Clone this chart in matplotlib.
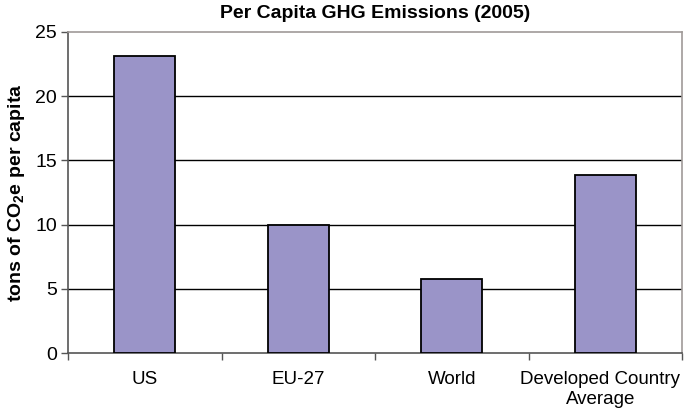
import matplotlib
matplotlib.use("Agg")
import matplotlib.pyplot as plt
import matplotlib.transforms as mtransforms
import numpy as np

categories = ["US", "EU-27", "World", "Developed Country\nAverage"]
values = [23.1, 9.95, 5.8, 13.85]
yticks = [0, 5, 10, 15, 20, 25]

plt.rcParams['font.family'] = ['Liberation Sans', 'DejaVu Sans']
plt.rcParams['mathtext.fontset'] = 'custom'
plt.rcParams['mathtext.rm'] = 'Liberation Sans:bold'
plt.rcParams['mathtext.bf'] = 'Liberation Sans:bold'

fig = plt.figure(figsize=(6.85, 4.13), dpi=100)
ax = fig.add_axes([68/685, 60/413, 614/685, 321/413])

x = np.arange(len(categories))
ax.bar(x, values, width=0.4, color='#9a94c8', edgecolor='black', linewidth=1.3, zorder=3)

ax.set_xlim(-0.5, len(categories) - 0.5)
ax.set_ylim(0, 25)
ax.set_yticks(yticks)
ax.set_yticklabels([str(t) for t in yticks], fontsize=14)
ax.set_xticks(x)
ax.set_xticklabels(categories, fontsize=13.5, linespacing=1.2)
ax.tick_params(axis='x', length=0, pad=13)
ax.set_xticks(np.arange(-0.5, len(categories) + 0.5, 1), minor=True)
ax.tick_params(axis='x', which='minor', length=5, color='#555555', width=1)
ax.tick_params(axis='y', length=5, color='#555555', width=1, pad=3)
last = ax.get_xticklabels()[-1]
last.set_transform(last.get_transform() + mtransforms.ScaledTranslation(-5/100, 0, fig.dpi_scale_trans))

for t in yticks[1:-1]:
    ax.axhline(t, color='black', linewidth=1, zorder=1)

for s in ['left', 'bottom']:
    ax.spines[s].set_color('#555555')
    ax.spines[s].set_linewidth(1.2)
for s in ['top', 'right']:
    ax.spines[s].set_color('#a09a98')
    ax.spines[s].set_linewidth(1.2)

ax.set_ylabel(r"tons of CO$_\mathbf{2}$e per capita", fontsize=14, fontweight='bold', labelpad=6)
ax.set_title("Per Capita GHG Emissions (2005)", fontsize=14, fontweight='bold', pad=10)

fig.savefig("out.png", dpi=100)
